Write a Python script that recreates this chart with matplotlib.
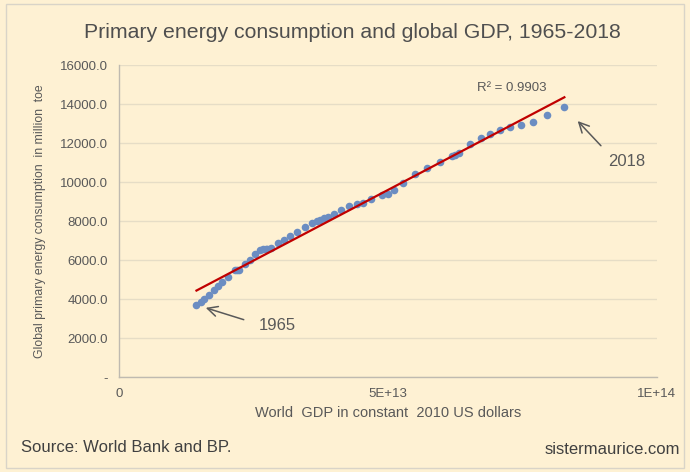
import matplotlib.pyplot as plt
from matplotlib.patches import Rectangle
from matplotlib.ticker import FuncFormatter
import numpy as np

plt.rcParams['font.family'] = ['Liberation Sans', 'DejaVu Sans']

# world GDP (constant 2010 US$, trillions) and primary energy (million toe), 1965-2018
years = list(range(1965, 2019))
gdp_trillion = [
    14.4, 15.2, 15.8, 16.7, 17.7, 18.4, 19.2, 20.3, 21.6, 22.0,
    22.3, 23.4, 24.3, 25.3, 26.3, 26.8, 27.4, 27.6, 28.3, 29.6,
    30.7, 31.8, 33.0, 34.5, 35.8, 36.8, 37.3, 38.1, 38.8, 40.0,
    41.3, 42.7, 44.3, 45.4, 46.9, 48.9, 50.0, 51.2, 52.8, 55.1,
    57.2, 59.6, 62.0, 63.2, 62.5, 65.2, 67.3, 69.0, 70.8, 72.7,
    74.8, 77.0, 79.6, 82.8,
]
energy_mtoe = [
    3710, 3880, 4000, 4200, 4450, 4700, 4880, 5150, 5500, 5480,
    5520, 5820, 6020, 6300, 6550, 6600, 6580, 6560, 6650, 6880,
    7050, 7250, 7450, 7720, 7900, 8000, 8080, 8150, 8230, 8350,
    8550, 8780, 8880, 8920, 9120, 9350, 9420, 9620, 9950, 10420,
    10750, 11050, 11350, 11480, 11400, 11950, 12250, 12450, 12680, 12850,
    12950, 13080, 13450, 13860,
]
r2_label = 'R² = 0.9903'

bg = '#FEF1D3'
txt = '#595959'

gdp = np.array(gdp_trillion) * 1e12
energy = np.array(energy_mtoe, dtype=float)

fig = plt.figure(figsize=(6.9, 4.72), dpi=100, facecolor=bg)
ax = fig.add_axes([0.1725, 0.2006, 0.7795, 0.6614])
ax.set_facecolor(bg)

# outer frame
fig.patches.append(Rectangle((0.008, 0.008), 0.984, 0.984, transform=fig.transFigure,
                             fill=False, edgecolor='#D9D4C8', lw=1.0))

ax.set_xlim(0, 1e14)
ax.set_ylim(0, 16000)
ax.set_yticks(np.arange(0, 16001, 2000))
ax.set_xticks([0, 5e13, 1e14])
ax.yaxis.set_major_formatter(FuncFormatter(lambda v, p: '-' if v == 0 else f'{v:.1f}'))
ax.xaxis.set_major_formatter(FuncFormatter(lambda v, p: {0: '0', 5e13: '5E+13', 1e14: '1E+14'}.get(v, '')))
ax.tick_params(length=0, labelsize=9.5, labelcolor=txt, pad=8)
ax.grid(axis='y', color='#E6DDC6', lw=1.0)
ax.set_axisbelow(True)
for s in ['top', 'right']:
    ax.spines[s].set_visible(False)
for s in ['left', 'bottom']:
    ax.spines[s].set_color('#BFBAB0')
    ax.spines[s].set_linewidth(1.0)

ax.scatter(gdp, energy, s=30, color='#6B8DC2', zorder=3, linewidths=0)

# linear trend
a, b = np.polyfit(gdp, energy, 1)
xl = np.array([gdp.min(), gdp.max()])
ax.plot(xl, a * xl + b, color='#C00000', lw=1.6, zorder=4)
ax.annotate(r2_label, xy=(xl[1], a * xl[1] + b), xytext=(-38, 2), textcoords='offset points',
            fontsize=9.5, color=txt, ha='center', va='bottom')

arrow = dict(arrowstyle='->,head_length=0.6,head_width=0.3', color=txt, lw=1.1)
ax.annotate('1965', xy=(gdp[0], energy[0]), xytext=(58, -15), textcoords='offset points',
            fontsize=12, color=txt, ha='center', va='center',
            arrowprops=dict(**arrow, relpos=(0, 0.6), shrinkA=9, shrinkB=7))
ax.annotate('2018', xy=(gdp[-1], energy[-1]), xytext=(45, -39), textcoords='offset points',
            fontsize=12, color=txt, ha='center', va='center',
            arrowprops=dict(**arrow, relpos=(0, 1.0), shrinkA=5, shrinkB=14))

ax.set_xlabel('World  GDP in constant  2010 US dollars', fontsize=10.5, color=txt, labelpad=4)
ax.set_ylabel('Global primary energy consumption  in million  toe', fontsize=8.8, color=txt, labelpad=10)

fig.text(0.51, 0.932, 'Primary energy consumption and global GDP, 1965-2018', ha='center', va='center',
         fontsize=15.3, color='#4F4F4F')
fig.text(0.03, 0.052, 'Source: World Bank and BP.', ha='left', va='center', fontsize=12, color='#404040')
fig.text(0.985, 0.047, 'sistermaurice.com', ha='right', va='center', fontsize=12, color='#404040')

fig.savefig('out.png', dpi=100, facecolor=bg)
